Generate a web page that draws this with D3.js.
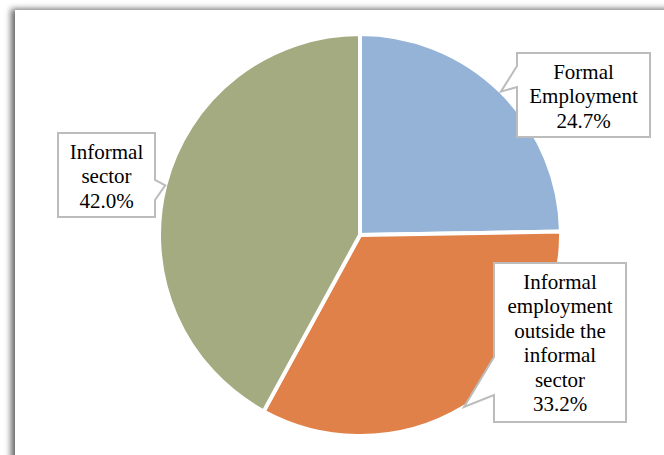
<!DOCTYPE html>
<html>
<head>
<meta charset="utf-8">
<script src="https://cdn.jsdelivr.net/npm/d3@7"></script>
<style>
  html, body { margin: 0; padding: 0; background: #fff; }
  svg { display: block; }
</style>
</head>
<body>
<div id="chart"></div>
<script>
// Données
const categories = ['Formal Employment', 'Informal employment outside the informal sector', 'Informal sector'];
const values = [24.7, 33.2, 42.0];
const labelLines = [
  ['Formal', 'Employment'],
  ['Informal', 'employment', 'outside the', 'informal', 'sector'],
  ['Informal', 'sector']
];
const colors = ['#95b3d6', '#e0814a', '#a5ab80'];

const config = {
  width: 664,
  height: 455,
  cx: 360,
  cy: 235,
  radius: 201
}

// Position des bulles (x, y, largeur, hauteur, côté du pointeur, base du pointeur)
const callouts = [
  {x: 517, y: 53, w: 133, h: 84, side: 'left', b1: 66, b2: 87},
  {x: 494, y: 263, w: 132, h: 159, side: 'left', b1: 357, b2: 395},
  {x: 58, y: 133, w: 97, h: 84, side: 'right', b1: 180, b2: 200}
]

const svg = d3.select('#chart').append('svg')
  .attr('width', config.width)
  .attr('height', config.height);

// Ombre du cadre
const defs = svg.append('defs');
const filter = defs.append('filter').attr('id', 'shadow')
  .attr('x', '-5%').attr('y', '-5%').attr('width', '110%').attr('height', '110%');
filter.append('feDropShadow')
  .attr('dx', -4).attr('dy', -1)
  .attr('stdDeviation', 3)
  .attr('flood-color', '#000')
  .attr('flood-opacity', 0.6);

svg.append('rect')
  .attr('x', 15).attr('y', 10)
  .attr('width', 720).attr('height', 520)
  .attr('fill', '#fff')
  .attr('filter', 'url(#shadow)');

const data = categories.map((c, i) => ({name: c, value: values[i], lines: labelLines[i], color: colors[i], callout: callouts[i]}));

const pie = d3.pie().sort(null).value(d => d.value);
const arc = d3.arc().innerRadius(0).outerRadius(config.radius);
const edgeArc = d3.arc().innerRadius(config.radius).outerRadius(config.radius);

const g = svg.append('g')
  .attr('transform', `translate(${config.cx}, ${config.cy})`);

const arcs = pie(data);

g.selectAll('path.slice')
  .data(arcs)
  .enter()
  .append('path')
  .attr('class', 'slice')
  .attr('d', arc)
  .attr('fill', d => d.data.color)
  .attr('stroke', '#fff')
  .attr('stroke-width', 4)
  .attr('stroke-linejoin', 'miter');

// Bulles d'étiquettes
const labels = svg.append('g').attr('class', 'labels');

arcs.forEach(d => {
  const c = d.data.callout;
  const t = edgeArc.centroid(d);
  const tx = t[0] + config.cx;
  const ty = t[1] + config.cy;
  let p;
  if (c.side === 'left') {
    p = `M${c.x},${c.y} H${c.x + c.w} V${c.y + c.h} H${c.x} V${c.b2} L${tx},${ty} L${c.x},${c.b1} Z`;
  } else {
    const r = c.x + c.w;
    p = `M${c.x},${c.y} H${r} V${c.b1} L${tx},${ty} L${r},${c.b2} V${c.y + c.h} H${c.x} Z`;
  }
  labels.append('path')
    .attr('d', p)
    .attr('fill', '#fff')
    .attr('stroke', '#bcbcbc')
    .attr('stroke-width', 2)
    .attr('stroke-linejoin', 'miter');

  const lines = d.data.lines.concat([d3.format('.1f')(d.data.value) + '%']);
  const text = labels.append('text')
    .attr('font-family', '"Liberation Serif", serif')
    .attr('font-size', 21)
    .attr('fill', '#000')
    .attr('text-anchor', 'middle');
  lines.forEach((l, i) => {
    text.append('tspan')
      .attr('x', c.x + c.w / 2)
      .attr('y', c.y + 25.5 + i * 24.5)
      .text(l);
  });
});
</script>
</body>
</html>
